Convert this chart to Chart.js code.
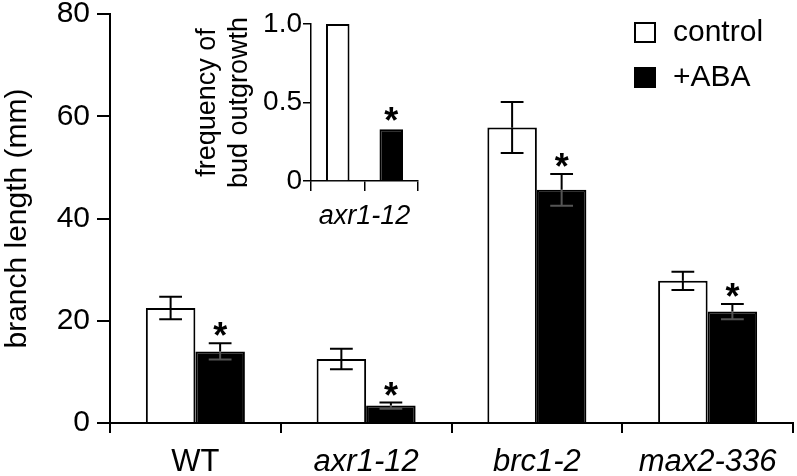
<!DOCTYPE html>
<html>
<head>
<meta charset="utf-8">
<script src="https://cdn.jsdelivr.net/npm/chart.js@4/dist/chart.umd.min.js"></script>
<style>
  body { margin: 0; background: #fff; }
  #wrap { position: relative; width: 797px; height: 476px; }
  #inset { position: absolute; left: 180px; top: 0; }
</style>
</head>
<body>
<div id="wrap">
  <canvas id="main" width="797" height="476"></canvas>
  <canvas id="inset" width="250" height="235"></canvas>
</div>
<script>
// main panel: branch length (mm), mean +/- error
const categories = ["WT", "axr1-12", "brc1-2", "max2-336"];
const controlMeans = [22.5, 12.5, 57.8, 27.8];
const controlErrors = [2.2, 2.0, 5.0, 1.8];
const abaMeans = [14.0, 3.4, 45.6, 21.8];
const abaErrors = [1.6, 0.6, 3.1, 1.5];
const abaSignificant = [true, true, true, true];
const yTicks = [0, 20, 40, 60, 80];

// inset: frequency of bud outgrowth in axr1-12
const insetGroups = ["control", "+ABA"];
const insetFrequency = [1.0, 0.33];
const insetSignificant = [false, true];
const insetGenotype = "axr1-12";
const insetTicks = [0, 0.5, 1.0];

const FONT = "'Liberation Sans', Arial, Helvetica, sans-serif";
Chart.defaults.font.family = FONT;
Chart.defaults.color = "#000";

// error bars + significance stars, drawn from the bar elements
const errorBars = {
  id: "errorBars",
  afterDatasetsDraw(chart, args, opts) {
    const { ctx } = chart;
    const y = chart.scales.y;
    chart.data.datasets.forEach((ds, di) => {
      const meta = chart.getDatasetMeta(di);
      meta.data.forEach((bar, i) => {
        const v = ds.data[i];
        const err = ds.errors ? ds.errors[i] : 0;
        const top = y.getPixelForValue(v + err);
        ctx.save();
        ctx.lineWidth = 2;
        if (err) {
          const barTop = y.getPixelForValue(v);
          const bot = y.getPixelForValue(v - err);
          const half = bar.width * 0.23;
          ctx.strokeStyle = "#000";
          ctx.beginPath();
          ctx.moveTo(bar.x, top); ctx.lineTo(bar.x, barTop);
          ctx.moveTo(bar.x - half, top); ctx.lineTo(bar.x + half, top);
          ctx.stroke();
          const fill = Array.isArray(ds.backgroundColor) ? ds.backgroundColor[i] : ds.backgroundColor;
          ctx.strokeStyle = fill === "#000" ? "#555" : "#000";
          ctx.beginPath();
          ctx.moveTo(bar.x, barTop); ctx.lineTo(bar.x, bot);
          ctx.moveTo(bar.x - half, bot); ctx.lineTo(bar.x + half, bot);
          ctx.stroke();
        }
        if (ds.stars && ds.stars[i]) {
          ctx.fillStyle = "#000";
          ctx.font = "bold " + opts.starSize + "px " + FONT;
          ctx.textAlign = "center";
          ctx.textBaseline = "alphabetic";
          ctx.fillText("*", bar.x, top + opts.starOffset);
        }
        ctx.restore();
      });
    });
  }
};

// legend with outlined boxes, top right of plot area
const boxLegend = {
  id: "boxLegend",
  afterDraw(chart) {
    const { ctx, chartArea } = chart;
    const x0 = chartArea.right - 159;
    const y0 = chartArea.top + 8;
    chart.data.datasets.forEach((ds, i) => {
      const y = y0 + i * 45;
      ctx.save();
      ctx.fillStyle = ds.backgroundColor;
      ctx.fillRect(x0, y, 22, 21);
      ctx.strokeStyle = "#000";
      ctx.lineWidth = 2;
      ctx.strokeRect(x0 + 1, y + 1, 20, 19);
      ctx.fillStyle = "#000";
      ctx.font = "30px " + FONT;
      ctx.textBaseline = "middle";
      ctx.fillText(ds.label, x0 + 39, y + 11);
      ctx.restore();
    });
  }
};

const axisBlack = { color: "#000", width: 2 };

new Chart(document.getElementById("main"), {
  type: "bar",
  data: {
    labels: categories,
    datasets: [
      {
        label: "control",
        data: controlMeans,
        errors: controlErrors,
        backgroundColor: "#fff",
        borderColor: "#000",
        borderWidth: 2,
      },
      {
        label: "+ABA",
        data: abaMeans,
        errors: abaErrors,
        stars: abaSignificant,
        backgroundColor: "#000",
        borderColor: "#000",
        borderWidth: 2,
      },
    ],
  },
  options: {
    responsive: false,
    animation: false,
    devicePixelRatio: 1,
    categoryPercentage: 0.58,
    barPercentage: 1.0,
    layout: { padding: { top: 14, right: 4, left: 0, bottom: 0 } },
    plugins: {
      legend: { display: false },
      tooltip: { enabled: false },
      errorBars: { starSize: 36, starOffset: 5 },
    },
    scales: {
      x: {
        grid: { offset: true, drawOnChartArea: false, tickLength: 10, color: "#000", lineWidth: 2 },
        border: axisBlack,
        ticks: {
          padding: 11,
          font: (c) => ({ size: 31, style: categories[c.index] === "WT" ? "normal" : "italic" }),
        },
        afterFit: (s) => { s.height = 53; s.paddingLeft = 0; s.paddingRight = 0; },
      },
      y: {
        min: 0,
        max: 80,
        afterBuildTicks: (s) => { s.ticks = yTicks.map((v) => ({ value: v })); },
        grid: { drawOnChartArea: false, tickLength: 13, color: "#000", lineWidth: 2 },
        border: axisBlack,
        ticks: { padding: 7, font: { size: 30 } },
        title: { display: true, text: "branch length (mm)", font: { size: 30 }, padding: 0 },
        afterFit: (s) => { s.width = 110; s.paddingTop = 0; s.paddingBottom = 0; },
      },
    },
  },
  plugins: [errorBars, boxLegend],
});

new Chart(document.getElementById("inset"), {
  type: "bar",
  data: {
    labels: insetGroups,
    datasets: [
      {
        data: insetFrequency,
        stars: insetSignificant,
        backgroundColor: ["#fff", "#000"],
        borderColor: "#000",
        borderWidth: 2,
        barPercentage: 0.44,
        categoryPercentage: 1.0,
      },
    ],
  },
  options: {
    responsive: false,
    animation: false,
    devicePixelRatio: 1,
    layout: { padding: { top: 24, right: 12, left: 0, bottom: 0 } },
    plugins: {
      legend: { display: false },
      tooltip: { enabled: false },
      errorBars: { starSize: 36, starOffset: 4 },
    },
    scales: {
      x: {
        grid: { offset: true, drawOnChartArea: false, tickLength: 10, color: "#000", lineWidth: 1.5 },
        border: { color: "#000", width: 1.5 },
        ticks: { callback: () => "" },
        title: {
          display: true,
          text: insetGenotype,
          font: { size: 27, style: "italic" },
          padding: { top: 0, bottom: 2 },
        },
        afterFit: (s) => { s.height = 54; s.paddingLeft = 0; s.paddingRight = 0; },
      },
      y: {
        min: 0,
        max: 1,
        afterBuildTicks: (s) => { s.ticks = insetTicks.map((v) => ({ value: v })); },
        grid: { drawOnChartArea: false, tickLength: 8, color: "#000", lineWidth: 1.5 },
        border: { color: "#000", width: 1.5 },
        ticks: {
          padding: 1,
          font: { size: 28 },
          callback: (v) => (v === 0 ? "0" : v.toFixed(1)),
        },
        title: {
          display: true,
          text: ["frequency of", "bud outgrowth"],
          font: { size: 27 },
          padding: { top: 11, bottom: 0 },
        },
        afterFit: (s) => { s.width = 131; s.paddingTop = 0; s.paddingBottom = 0; },
      },
    },
  },
  plugins: [errorBars],
});
</script>
</body>
</html>
